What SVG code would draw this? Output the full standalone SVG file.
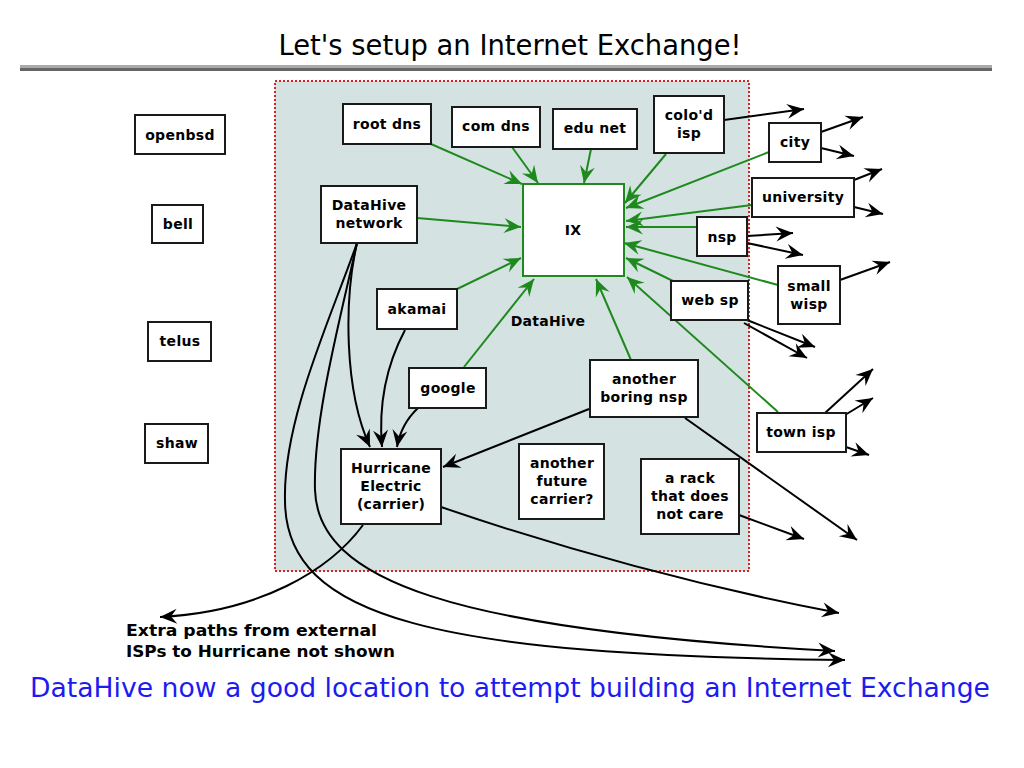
<svg xmlns="http://www.w3.org/2000/svg" width="1024" height="768" viewBox="0 0 1024 768">
<defs>
<marker id="ab" viewBox="-18 -9 20 18" refX="0" refY="0" markerWidth="20" markerHeight="18" markerUnits="userSpaceOnUse" orient="auto"><path d="M0,0 L-17,-7.5 L-11,0 L-17,7.5 Z" fill="#000"/></marker>
<marker id="ag" viewBox="-18 -9 20 18" refX="0" refY="0" markerWidth="20" markerHeight="18" markerUnits="userSpaceOnUse" orient="auto"><path d="M0,0 L-17,-7.5 L-11,0 L-17,7.5 Z" fill="#1e8a1e"/></marker>
<style>
.box{fill:#fff;stroke:#1a1a1a;stroke-width:2}
.t{font-family:"DejaVu Sans",sans-serif;font-weight:bold;font-size:14px;text-anchor:middle;fill:#000;letter-spacing:0.3px}
.g{fill:none;stroke:#1e8a1e;stroke-width:2;marker-end:url(#ag)}
.k{fill:none;stroke:#000;stroke-width:2;marker-end:url(#ab)}
.comic{font-family:"DejaVu Sans Condensed","DejaVu Sans",sans-serif;font-weight:normal}
</style>
</defs>
<rect width="1024" height="768" fill="#fff"/>
<text class="comic" x="510" y="55" font-size="28" text-anchor="middle" textLength="463" lengthAdjust="spacingAndGlyphs">Let's setup an Internet Exchange!</text>
<rect x="20" y="65" width="972" height="3" fill="#aaa"/>
<rect x="20" y="68" width="972" height="3" fill="#666"/>
<rect x="275" y="81" width="474" height="490" fill="#d5e2e2" stroke="#e02020" stroke-width="2" stroke-dasharray="2,2"/>
<g id="connectors">
<line class="g" x1="431" y1="144" x2="522" y2="184"/>
<line class="g" x1="512" y1="147" x2="538" y2="183"/>
<line class="g" x1="591" y1="149" x2="584" y2="183"/>
<line class="g" x1="666" y1="154" x2="625" y2="203"/>
<line class="g" x1="769" y1="152" x2="626" y2="208"/>
<line class="g" x1="752" y1="205" x2="626" y2="221"/>
<line class="g" x1="697" y1="227" x2="626" y2="227"/>
<line class="g" x1="778" y1="285" x2="624" y2="243"/>
<line class="g" x1="675" y1="282" x2="626" y2="258"/>
<line class="g" x1="778" y1="412" x2="627" y2="277"/>
<line class="g" x1="631" y1="360" x2="596" y2="279"/>
<line class="g" x1="464" y1="367" x2="534" y2="279"/>
<line class="g" x1="455" y1="290" x2="521" y2="258"/>
<line class="g" x1="417" y1="218" x2="521" y2="227"/>
<line class="k" x1="724" y1="120" x2="804" y2="109"/>
<line class="k" x1="821" y1="132" x2="863" y2="117"/>
<line class="k" x1="821" y1="148" x2="854" y2="156"/>
<line class="k" x1="854" y1="180" x2="882" y2="169"/>
<line class="k" x1="854" y1="207" x2="883" y2="214"/>
<line class="k" x1="747" y1="236" x2="793" y2="233"/>
<line class="k" x1="747" y1="243" x2="803" y2="255"/>
<line class="k" x1="840" y1="280" x2="890" y2="262"/>
<line class="k" x1="747" y1="320" x2="815" y2="347"/>
<line class="k" x1="744" y1="323" x2="807" y2="358"/>
<line class="k" x1="825" y1="413" x2="873" y2="369"/>
<line class="k" x1="845" y1="415" x2="873" y2="398"/>
<line class="k" x1="846" y1="447" x2="869" y2="455"/>
<line class="k" x1="685" y1="418" x2="857" y2="540"/>
<line class="k" x1="739" y1="515" x2="804" y2="539"/>
<line class="k" x1="589" y1="409" x2="443" y2="467"/>
<path class="k" d="M441,507 Q640,575 839,613"/>
<path class="k" d="M405,330 C388,362 378,400 382,447"/>
<path class="k" d="M418,408 Q401,424 397,447"/>
<path class="k" d="M357,243 C344,300 344,390 370,447"/>
<path class="k" d="M357,243 C330,320 283,420 285,500 C285,620 440,655 845,660"/>
<path class="k" d="M357,243 C340,320 313,420 315,490 C318,580 450,630 835,651"/>
<path class="k" d="M363,525 C330,570 260,612 160,617"/>
</g>
<g id="openbsd"><rect class="box" x="135" y="115" width="90" height="39"/><text class="t" x="180" y="140">openbsd</text></g>
<g id="bell"><rect class="box" x="152" y="205" width="51" height="38"/><text class="t" x="178" y="229">bell</text></g>
<g id="telus"><rect class="box" x="148" y="322" width="63" height="39"/><text class="t" x="180" y="346">telus</text></g>
<g id="shaw"><rect class="box" x="145" y="424" width="63" height="39"/><text class="t" x="177" y="448">shaw</text></g>
<g id="rootdns"><rect class="box" x="343" y="104" width="88" height="40"/><text class="t" x="387" y="129">root dns</text></g>
<g id="comdns"><rect class="box" x="452" y="107" width="88" height="40"/><text class="t" x="496" y="131">com dns</text></g>
<g id="edunet"><rect class="box" x="553" y="109" width="84" height="40"/><text class="t" x="595" y="133">edu net</text></g>
<g id="colodisp"><rect class="box" x="654" y="96" width="70" height="57"/><text class="t" x="689" y="120">colo'd</text><text class="t" x="689" y="138">isp</text></g>
<g id="datahive-network"><rect class="box" x="321" y="186" width="96" height="57"/><text class="t" x="369" y="210">DataHive</text><text class="t" x="369" y="228">network</text></g>
<g id="ix"><rect x="523" y="184" width="101" height="92" fill="#fff" stroke="#1e8a1e" stroke-width="2"/><text class="t" x="573" y="235">IX</text></g>
<g id="city"><rect class="box" x="769" y="123" width="52" height="39"/><text class="t" x="795" y="147">city</text></g>
<g id="university"><rect class="box" x="752" y="178" width="102" height="39"/><text class="t" x="803" y="202">university</text></g>
<g id="nsp"><rect class="box" x="697" y="217" width="50" height="39"/><text class="t" x="722" y="242">nsp</text></g>
<g id="smallwisp"><rect class="box" x="778" y="266" width="62" height="58"/><text class="t" x="809" y="291">small</text><text class="t" x="809" y="309">wisp</text></g>
<g id="websp"><rect class="box" x="671" y="281" width="77" height="39"/><text class="t" x="710" y="305">web sp</text></g>
<g id="townisp"><rect class="box" x="757" y="413" width="89" height="39"/><text class="t" x="801" y="437">town isp</text></g>
<g id="akamai"><rect class="box" x="377" y="289" width="80" height="40"/><text class="t" x="417" y="314">akamai</text></g>
<g id="google"><rect class="box" x="409" y="368" width="77" height="40"/><text class="t" x="448" y="393">google</text></g>
<g id="anotherboringnsp"><rect class="box" x="590" y="360" width="108" height="57"/><text class="t" x="644" y="384">another</text><text class="t" x="644" y="402">boring nsp</text></g>
<g id="hurricane"><rect class="box" x="341" y="449" width="100" height="75"/><text class="t" x="391" y="473">Hurricane</text><text class="t" x="391" y="491">Electric</text><text class="t" x="391" y="509">(carrier)</text></g>
<g id="futurecarrier"><rect class="box" x="519" y="444" width="85" height="75"/><text class="t" x="562" y="468">another</text><text class="t" x="562" y="486">future</text><text class="t" x="562" y="504">carrier?</text></g>
<g id="rack"><rect class="box" x="641" y="459" width="98" height="75"/><text class="t" x="690" y="483">a rack</text><text class="t" x="690" y="501">that does</text><text class="t" x="690" y="519">not care</text></g>
<text class="t" x="548" y="326">DataHive</text>
<text class="t" x="126" y="636" style="text-anchor:start;font-size:16px;letter-spacing:0" textLength="251" lengthAdjust="spacingAndGlyphs">Extra paths from external</text>
<text class="t" x="126" y="657" style="text-anchor:start;font-size:16px;letter-spacing:0" textLength="269" lengthAdjust="spacingAndGlyphs">ISPs to Hurricane not shown</text>
<text class="comic" x="30" y="697" font-size="26" fill="#1c1cf0" textLength="960" lengthAdjust="spacingAndGlyphs">DataHive now a good location to attempt building an Internet Exchange</text>
</svg>
